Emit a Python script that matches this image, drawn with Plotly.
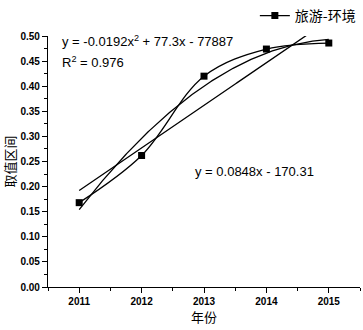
import numpy as np
import plotly.graph_objects as go

years = [2011, 2012, 2013, 2014, 2015]
values = [0.168, 0.262, 0.420, 0.474, 0.486]
series_name = "旅游-环境"
y_ticks = [0.00, 0.05, 0.10, 0.15, 0.20, 0.25, 0.30, 0.35, 0.40, 0.45, 0.50]
eq_poly = "y = -0.0192x<sup>2</sup> + 77.3x - 77887"
eq_r2 = "R<sup>2</sup> = 0.976"
eq_lin = "y = 0.0848x - 170.31"

x = np.array(years, dtype=float)
y = np.array(values)
xc = x - x.mean()
lin = np.polyfit(xc, y, 1)
quad = np.polyfit(xc, y, 2)
xs = np.linspace(x.min(), x.max(), 200)

fig = go.Figure()
fig.add_trace(go.Scatter(x=xs, y=np.polyval(lin, xs - x.mean()), mode="lines",
                         line=dict(color="black", width=1.3), showlegend=False, hoverinfo="skip"))
fig.add_trace(go.Scatter(x=xs, y=np.polyval(quad, xs - x.mean()), mode="lines",
                         line=dict(color="black", width=1.3), showlegend=False, hoverinfo="skip"))
fig.add_trace(go.Scatter(x=years, y=values, mode="lines+markers", name=series_name,
                         line=dict(color="black", width=1.3, shape="spline", smoothing=1),
                         marker=dict(symbol="square", size=7, color="black")))

tickfont = dict(family="Liberation Sans, Arial", size=10, color="black", weight="bold")
fig.update_layout(
    width=363, height=330,
    margin=dict(l=48, r=3, t=36, b=43, autoexpand=False),
    paper_bgcolor="white", plot_bgcolor="white",
    showlegend=True,
    legend=dict(x=0.663, xanchor="left", y=1.0, yanchor="top", yref="container",
                font=dict(family="Noto Sans CJK SC", size=14, color="black"),
                bgcolor="rgba(0,0,0,0)", itemwidth=30),
    xaxis=dict(range=[2010.5, 2015.5], tickvals=years, ticktext=[str(v) for v in years],
               showgrid=False, zeroline=False, showline=True, linecolor="black", linewidth=1.3,
               ticks="outside", ticklen=5, tickcolor="black", tickfont=tickfont, automargin=False,
               minor=dict(dtick=0.5, tick0=2010.5, ticks="outside", ticklen=3, tickcolor="black", showgrid=False),
               title=dict(text="年份", font=dict(family="Noto Sans CJK SC", size=13, color="black"), standoff=5)),
    yaxis=dict(range=[0, 0.5], tickvals=y_ticks, ticktext=[f"{v:.2f}" for v in y_ticks],
               showgrid=False, zeroline=False, showline=True, linecolor="black", linewidth=1.3,
               ticks="outside", ticklen=5, tickcolor="black", tickfont=tickfont, automargin=False,
               minor=dict(dtick=0.025, ticks="outside", ticklen=3, tickcolor="black", showgrid=False),
               title=dict(text="取值区间", font=dict(family="Noto Sans CJK SC", size=13, color="black"), standoff=2)),
    annotations=[
        dict(text=eq_poly, xref="paper", yref="paper", x=0.038, y=0.98, xanchor="left", yanchor="middle",
             showarrow=False, font=dict(family="Liberation Sans, Arial", size=13, color="black")),
        dict(text=eq_r2, xref="paper", yref="paper", x=0.038, y=0.896, xanchor="left", yanchor="middle",
             showarrow=False, font=dict(family="Liberation Sans, Arial", size=13, color="black")),
        dict(text=eq_lin, xref="paper", yref="paper", x=0.465, y=0.462, xanchor="left", yanchor="middle",
             showarrow=False, font=dict(family="Liberation Sans, Arial", size=13, color="black")),
    ],
)
fig.write_html("out.html", config={"displayModeBar": False},
               post_script="document.body.style.margin='0';document.body.style.overflow='hidden';")
